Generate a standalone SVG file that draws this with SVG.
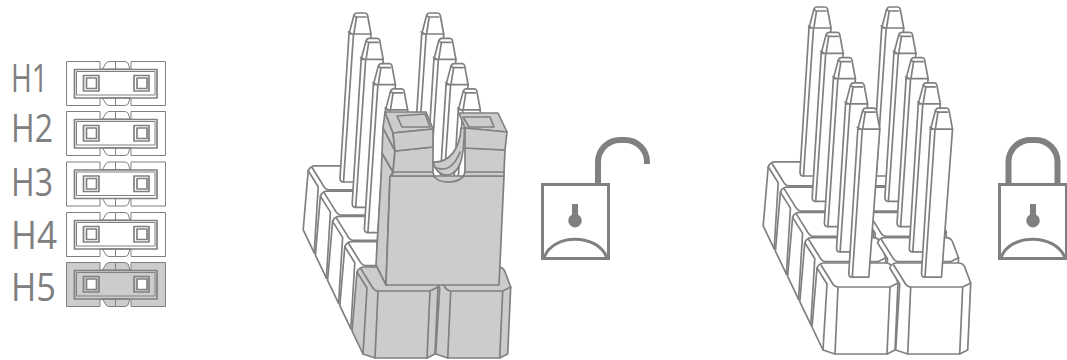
<svg xmlns="http://www.w3.org/2000/svg" width="1067" height="360" viewBox="0 0 1067 360">
<style>
text{font-family:"Open Sans","Liberation Sans",sans-serif;font-weight:400;font-size:39px;fill:#808080}
.s{stroke:#808080;stroke-width:1.7;stroke-linejoin:round;stroke-linecap:round}
.n{fill:none;stroke:#808080;stroke-width:1.7;stroke-linejoin:round;stroke-linecap:round}
.g{fill:#ccc}
.w{fill:#fff}
.o{stroke:#808080;stroke-width:1;stroke-linejoin:round}
.t{fill:none;stroke:#808080;stroke-width:1;stroke-linejoin:round}
.lock{fill:#fff;stroke:#808080;stroke-width:3}
.sh{fill:none;stroke:#808080;stroke-width:6}
.key{fill:#808080;stroke:none}
</style>
<defs>
<g id="hdr">
<path class="o" d="M66.5 .5H100V8H131V.5H165.5V44.5H131V37H100V44.5H66.5Z"/>
<path class="o" d="M102.5 8L106 2Q107 .5 110 .5H124Q127 .5 128 2L130 8ZM102.5 37L106 43Q107 44.5 110 44.5H124Q127 44.5 128 43L130 37Z"/>
<path class="t" d="M115.5 .5V8M115.5 37V44.5"/>
<rect class="n" x="74.5" y="8.500" width="82.500" height="28.500"/>
<rect class="t" x="76.5" y="10.500" width="78.500" height="23.500"/>
<rect class="n" x="83.5" y="14.500" width="15.500" height="15.500"/>
<rect class="s w" x="86.5" y="17" width="10" height="10.500"/>
<rect class="n" x="134" y="14.500" width="15" height="15.500"/>
<rect class="s w" x="137" y="17" width="10" height="10.500"/>
</g>
<g id="pin">
<path class="s w" d="M809 28L814 9Q815 7 817 7H825Q827 7 827.500 9L831 28L820 176H803Q800 176 800 172Z"/>
<path class="n" d="M809 28H831M814 27L816.500 11H826M814 10L816.500 11M808.500 26L812 28M813.500 28L803.500 176"/>
</g>
<g id="blockL">
<path class="s" d="M824 263H886Q890 263 892 267L898 283L895 350L887 354H835L823 350L812 327L817 268Q819 263 824 263Z"/>
<path class="n" d="M817 268L827 284L823 350M821 265L831 281Q834 287 838 287H890L898 283M838 287L835 354M890 287L887 354"/>
</g>
<g id="blockR">
<path class="s" d="M824 263H886Q890 263 892 267L898 283L895 350L887 354H835L823 350L827 284L817 268Q819 263 824 263Z"/>
<path class="n" d="M821 265L831 281Q834 287 838 287H890L898 283M838 287L835 354M890 287L887 354"/>
</g>
</defs>

<g id="label-h1"><text x="11" y="92" textLength="37" lengthAdjust="spacingAndGlyphs">H1</text></g>
<g id="label-h2"><text x="11" y="142" textLength="42" lengthAdjust="spacingAndGlyphs">H2</text></g>
<g id="label-h3"><text x="11" y="196" textLength="42" lengthAdjust="spacingAndGlyphs">H3</text></g>
<g id="label-h4"><text x="11" y="249" textLength="46" lengthAdjust="spacingAndGlyphs">H4</text></g>
<g id="label-h5"><text x="11" y="301" textLength="45" lengthAdjust="spacingAndGlyphs">H5</text></g>
<g id="header-h1" fill="#fff"><use href="#hdr" y="61"/></g>
<g id="header-h2" fill="#fff"><use href="#hdr" y="111"/></g>
<g id="header-h3" fill="#fff"><use href="#hdr" y="161.500"/></g>
<g id="header-h4" fill="#fff"><use href="#hdr" y="212"/></g>
<g id="header-h5" fill="#ccc"><use href="#hdr" y="262"/></g>

<g id="assembly-jumper" transform="translate(-460 4)">
<g fill="#fff">
<use href="#blockL" x="-48.800" y="-101.200"/><use href="#blockR" x="23.900" y="-101.200"/>
<use href="#pin" x="0" y="2"/><use href="#pin" x="72.700" y="2"/>
<use href="#blockL" x="-36.600" y="-75.900"/><use href="#blockR" x="36.100" y="-75.900"/>
<use href="#pin" x="12.200" y="27.300"/><use href="#pin" x="84.900" y="27.300"/>
<use href="#blockL" x="-24.400" y="-50.600"/><use href="#blockR" x="48.300" y="-50.600"/>
<use href="#pin" x="24.400" y="52.600"/><use href="#pin" x="97.100" y="52.600"/>
<use href="#blockL" x="-12.200" y="-25.300"/><use href="#blockR" x="60.500" y="-25.300"/>
<use href="#pin" x="36.600" y="77.900"/><use href="#pin" x="109.300" y="77.900"/>
</g>
<g fill="#ccc"><use href="#blockL"/><use href="#blockR" x="72.700"/></g>
</g>
<g id="jumper">
<path class="s g" d="M382 153L381 178L376 265L386 285L390 177L393 172Z"/>
<path class="s g" d="M390 176H432L448 182L465 176H504L499 285H386Z"/>
<path class="s g" d="M385 112L383 128L382 153L393 172L395 151L393 133Z"/>
<path class="n" d="M383 128L395 151"/>
<path class="s g" d="M395 151L433 147V172C434 180 441 182 448 182C456 182 463 180 465 172V148L505 150L504 172V176H392L393 172Z"/>
<path class="n" d="M393 172H432M465 172H504"/>
<path class="s g" d="M385 112H426L433 129L393 133ZM459 113H498L507 132L465 128Z"/>
<path class="s g" d="M397 116L425 114L430 127H402ZM463 117H490L494 127H469Z"/>
<path class="s g" d="M393 133L433 129V147L395 151ZM465 128L507 132L505 150L465 148Z"/>
<path class="s g" d="M461 128C460 148 450 163 433 162C436 173 443 176 449 175C459 172 464 162 464.500 128Z"/>
<path class="n" d="M437 168C447 172 455 165 460 152"/>
</g>

<g id="lock-open">
<path class="sh" d="M598 184V162A22 22 0 0 1 620 140H625A22 22 0 0 1 647 162V164"/>
<rect class="lock" x="542.500" y="184.500" width="66" height="74"/>
<path class="n" style="stroke-width:3" d="M544 258C552 233 598 233 607 258"/>
<path class="key" d="M572 204H578V214.500A6.800 6.800 0 1 1 572 214.500Z"/>
</g>

<g id="assembly-open" fill="#fff">
<use href="#blockL" x="-48.800" y="-101.200"/><use href="#blockR" x="23.900" y="-101.200"/>
<use href="#pin"/><use href="#pin" x="72.700"/>
<use href="#blockL" x="-36.600" y="-75.900"/><use href="#blockR" x="36.100" y="-75.900"/>
<use href="#pin" x="12.200" y="25.300"/><use href="#pin" x="84.900" y="25.300"/>
<use href="#blockL" x="-24.400" y="-50.600"/><use href="#blockR" x="48.300" y="-50.600"/>
<use href="#pin" x="24.400" y="50.600"/><use href="#pin" x="97.100" y="50.600"/>
<use href="#blockL" x="-12.200" y="-25.300"/><use href="#blockR" x="60.500" y="-25.300"/>
<use href="#pin" x="36.600" y="75.900"/><use href="#pin" x="109.300" y="75.900"/>
<use href="#blockL"/><use href="#blockR" x="72.700"/>
<use href="#pin" x="48.800" y="101.200"/><use href="#pin" x="121.500" y="101.200"/>
</g>

<g id="lock-closed">
<path class="sh" d="M1008.500 184V162A22 22 0 0 1 1030.500 140H1035.500A22 22 0 0 1 1057.500 162V184"/>
<rect class="lock" x="999.500" y="184.500" width="67" height="74"/>
<path class="n" style="stroke-width:3" d="M1001 258C1009 233 1056 233 1065 258"/>
<path class="key" d="M1030 204H1036V214.500A6.800 6.800 0 1 1 1030 214.500Z"/>
</g>
</svg>
